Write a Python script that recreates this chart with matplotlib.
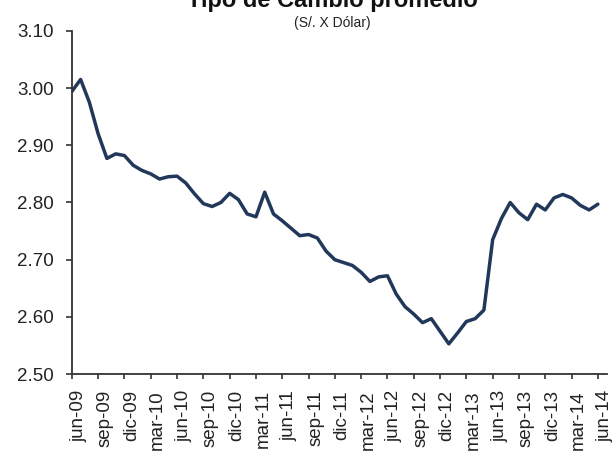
import matplotlib.pyplot as plt
import matplotlib.transforms as mtransforms
import numpy as np

# tipo de cambio promedio mensual, jun-09 .. jun-14 (S/. x dolar)
meses = ['jun-09', 'sep-09', 'dic-09', 'mar-10', 'jun-10', 'sep-10', 'dic-10',
         'mar-11', 'jun-11', 'sep-11', 'dic-11', 'mar-12', 'jun-12', 'sep-12',
         'dic-12', 'mar-13', 'jun-13', 'sep-13', 'dic-13', 'mar-14', 'jun-14']
tc = [2.994, 3.015, 2.975, 2.920, 2.877, 2.885, 2.882, 2.865, 2.856, 2.850,
      2.841, 2.845, 2.846, 2.834, 2.815, 2.798, 2.793, 2.800, 2.816, 2.805,
      2.780, 2.775, 2.818, 2.780, 2.768, 2.755, 2.742, 2.744, 2.738, 2.715,
      2.700, 2.695, 2.690, 2.678, 2.662, 2.670, 2.672, 2.640, 2.618, 2.605,
      2.590, 2.597, 2.575, 2.553, 2.572, 2.592, 2.597, 2.612, 2.735, 2.772,
      2.800, 2.782, 2.770, 2.797, 2.787, 2.808, 2.814, 2.808, 2.795, 2.787,
      2.797]
yticks = [2.50, 2.60, 2.70, 2.80, 2.90, 3.00, 3.10]

plt.rcParams['font.family'] = ['Liberation Sans', 'DejaVu Sans']

fig = plt.figure(figsize=(6.14, 4.53), dpi=100)
ax = fig.add_axes([0.117, 0.174, 0.871, 0.758])

x = np.arange(len(tc))
ax.plot(x, tc, color='#22385a', lw=2.5, solid_joinstyle='round', solid_capstyle='round')

ax.set_xlim(0, 61)
ax.set_ylim(2.50, 3.10)
ax.set_yticks(yticks)
ax.set_yticklabels(['%.2f' % v for v in yticks])
ax.set_xticks(np.arange(0, len(tc), 3))
ax.set_xticklabels(meses, rotation=90)

for s in ['top', 'right']:
    ax.spines[s].set_visible(False)
for s in ['left', 'bottom']:
    ax.spines[s].set_color('#333333')
    ax.spines[s].set_linewidth(1.3)

ax.tick_params(axis='y', direction='out', length=4.5, width=1.2, color='#333333',
               labelsize=13.5, pad=8.5, labelcolor='#222222')
ax.tick_params(axis='x', direction='out', length=3.5, width=1.2, color='#333333',
               labelsize=13.5, pad=8, labelcolor='#222222')

# etiquetas del eje x algo corridas a la derecha, como en el original
shift = mtransforms.ScaledTranslation(7 / 100, 0, fig.dpi_scale_trans)
for lbl in ax.get_xticklabels():
    lbl.set_transform(lbl.get_transform() + shift)

fig.text(0.542, 1 - 7 / 453, 'Tipo de Cambio promedio', ha='center', va='baseline',
         fontsize=17, fontweight='bold', color='#111111')
fig.text(0.541, 1 - 23 / 453, '(S/. X Dólar)', ha='center', va='center',
         fontsize=10, color='#222222')

fig.savefig('out.png', dpi=100)
